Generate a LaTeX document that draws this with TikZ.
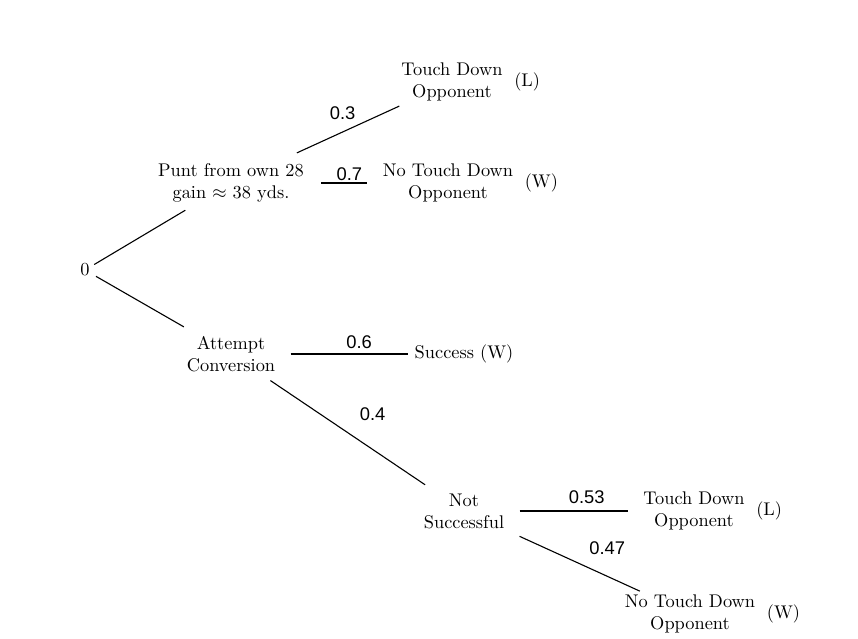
\documentclass[tikz,border=0pt]{standalone}
\usepackage{fontspec}
\usepackage{tikz}
\usetikzlibrary{positioning}
\newfontfamily\probfont{Liberation Sans}
\tikzset{
  state/.style={align=center, inner sep=0pt, font=\normalsize},
  outcome/.style={inner sep=0pt, font=\normalsize},
  branch/.style={line width=0.6pt},
  prob/.style={font=\probfont, inner sep=0pt},
}

\begin{document}
\begin{tikzpicture}[x=0.545pt,y=-0.545pt]
  \useasboundingbox (0,-2) rectangle (858,636);
  % decision and chance points
  \node[state] (root) at (85,268) {0};
  \node[state] (punt) at (231,181) {Punt from own 28\\gain $\approx$ 38 yds.};
  \node[state] (att) at (231,352) {Attempt\\Conversion};
  \node[state] (nots) at (464,509) {Not\\Successful};
  % end states
  \node[state] (tdA) at (452,80) {Touch Down\\Opponent};
  \node[state] (ntdA) at (448,181) {No Touch Down\\Opponent};
  \node[state] (succ) at (464,352) {Success (W)};
  \node[state] (tdB) at (694,509) {Touch Down\\Opponent};
  \node[state] (ntdB) at (690,612) {No Touch Down\\Opponent};
  \node[outcome, right=6pt of tdA] (tdAres) {(L)};
  \node[outcome, right=6pt of ntdA] (ntdAres) {(W)};
  \node[outcome, right=6pt of tdB] (tdBres) {(L)};
  \node[outcome, right=6pt of ntdB] (ntdBres) {(W)};

  \draw[branch, shorten <=2.7pt, shorten >=8pt] (root) -- (punt);
  \draw[branch, shorten <=3.8pt, shorten >=9.8pt] (root) -- (att);
  \draw[branch, shorten <=13.6pt, shorten >=6pt] (punt) -- node[prob, xshift=0.5pt, yshift=10.4pt]{0.3} (tdA);
  \draw[branch, shorten <=9.3pt, shorten >=8.7pt] (punt) -- node[prob, xshift=3.3pt, yshift=4.9pt]{0.7} (ntdA);
  \draw[branch, shorten <=8.2pt, shorten >=3.3pt] (att) -- node[prob, xshift=7.7pt, yshift=6.6pt]{0.6} (succ);
  \draw[branch, shorten <=8.2pt, shorten >=8.2pt] (att) -- node[prob, xshift=13.6pt, yshift=9.8pt]{0.4} (nots);
  \draw[branch, shorten <=8.2pt, shorten >=8.2pt] (nots) -- node[prob, xshift=7.1pt, yshift=7.6pt]{0.53} (tdB);
  \draw[branch, shorten <=9.8pt, shorten >=4.4pt] (nots) -- node[prob, xshift=17.5pt, yshift=7.1pt]{0.47} (ntdB);
\end{tikzpicture}
\end{document}
